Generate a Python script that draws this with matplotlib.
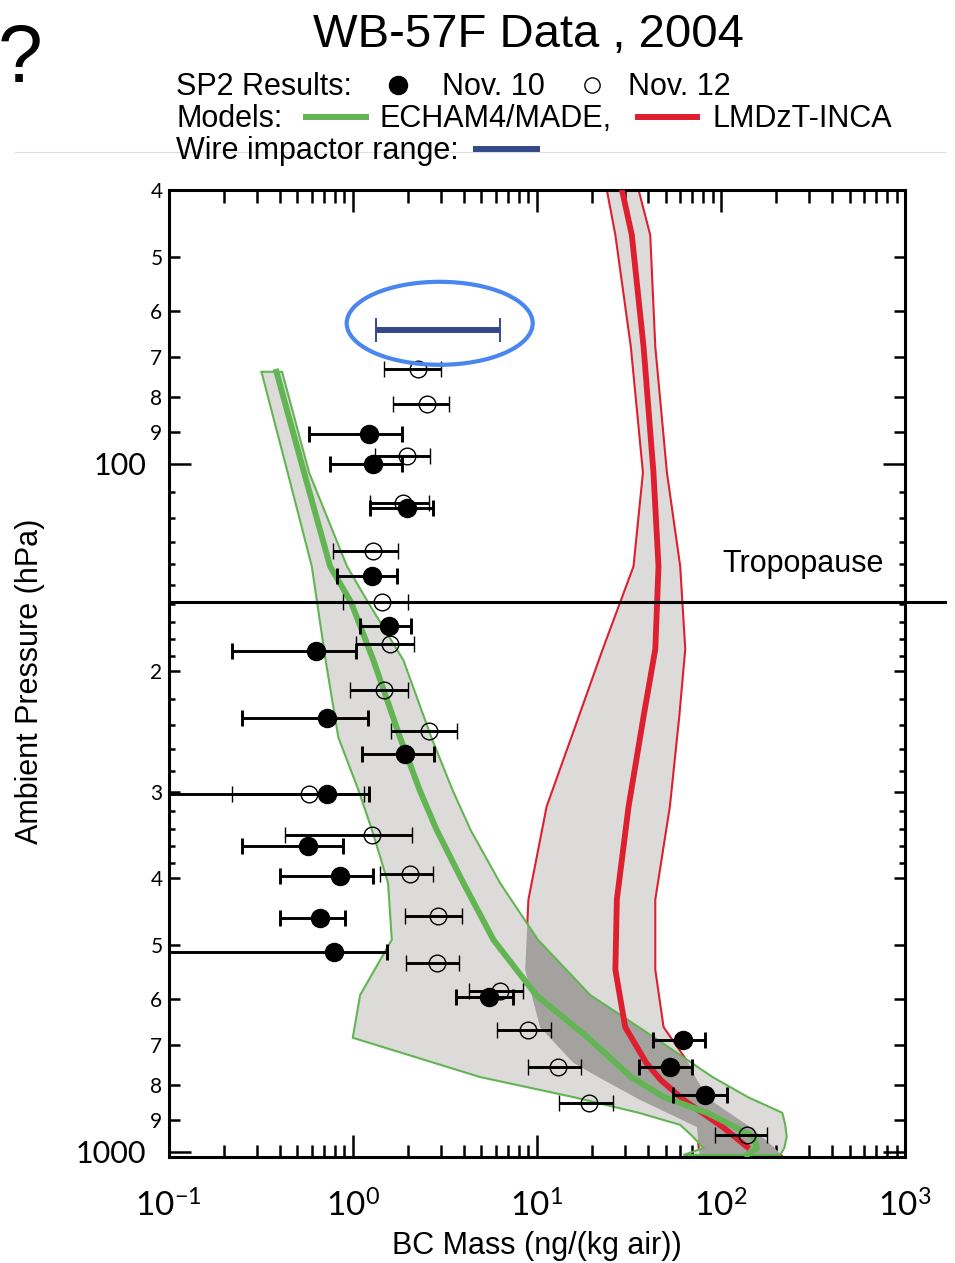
# WB-57F の BC 鉛直分布 (SP2 観測とモデル) を再現する
import numpy as np
import matplotlib
matplotlib.use("Agg")
import matplotlib.pyplot as plt
from matplotlib.lines import Line2D
from matplotlib.patches import Ellipse, Polygon
from matplotlib.ticker import FixedLocator, FuncFormatter, LogLocator, NullFormatter

plt.rcParams["font.family"] = ["Liberation Sans", "DejaVu Sans"]
plt.rcParams["mathtext.fontset"] = "custom"
plt.rcParams["mathtext.rm"] = "Lato"
plt.rcParams["mathtext.it"] = "Lato:italic"
plt.rcParams["mathtext.bf"] = "Lato:bold"

# SP2 Nov. 10 (filled)
nov10_p = [90.4, 100, 116, 145.5, 172, 187, 234, 264, 302, 359, 398, 458, 512, 595, 688, 752, 827]
nov10_bc = [1.22, 1.29, 1.97, 1.27, 1.58, 0.63, 0.72, 1.92, 0.72, 0.57, 0.85, 0.66, 0.79, 5.5, 62, 52.6, 81.5]
nov10_lo = [0.58, 0.75, 1.24, 0.82, 1.10, 0.22, 0.25, 1.12, 0.05, 0.25, 0.40, 0.40, 0.05, 3.64, 42.5, 36, 55]
nov10_hi = [1.85, 1.86, 2.74, 1.74, 2.07, 1.04, 1.21, 2.77, 1.22, 0.89, 1.28, 0.91, 1.53, 7.4, 82, 69.6, 108]

# SP2 Nov. 12 (open)
nov12_p = [72.8, 82, 97.4, 114, 134, 158.6, 183, 213, 245, 302, 347, 395, 454, 532, 585, 665, 752, 849, 946]
nov12_bc = [2.27, 2.53, 1.97, 1.88, 1.28, 1.44, 1.60, 1.47, 2.61, 0.58, 1.27, 2.05, 2.92, 2.86, 6.3, 8.9, 13.1, 19.3, 138]
nov12_lo = [1.48, 1.66, 1.32, 1.24, 0.78, 0.88, 1.04, 0.97, 1.61, 0.22, 0.43, 1.41, 1.92, 1.94, 4.3, 6.1, 8.9, 13.2, 93]
nov12_hi = [3.02, 3.35, 2.63, 2.58, 1.77, 1.99, 2.14, 1.99, 3.67, 1.15, 2.09, 2.74, 3.91, 3.80, 8.4, 11.9, 17.3, 25.8, 179]

# ECHAM4/MADE : range and median
echam_p = [73.5, 103, 141, 159, 193, 250, 298, 341, 407, 492, 592, 683, 779, 833, 878, 914, 952, 988, 1011]
echam_lo = [0.319, 0.443, 0.599, 0.640, 0.712, 0.835, 1.073, 1.273, 1.555, 1.629, 1.096, 1.0, 4.92, 15.8, 35.8, 60, 70.7, 80.4, 62.6]
echam_med = [0.385, 0.544, 0.753, 0.979, 1.294, 1.807, 2.307, 2.860, 3.992, 5.809, 9.913, 19.0, 32.5, 49.0, 83.9, 113.2, 150.4, 156.9, 138.5]
echam_hi = [0.413, 0.579, 0.931, 1.211, 1.884, 2.674, 3.482, 4.373, 6.318, 10.14, 19.49, 43.7, 90.1, 140.1, 215.4, 223.6, 227.8, 220.8, 210.1]

# LMDzT-INCA : range and median
inca_p = [40, 46.5, 67.6, 103, 141, 186, 233, 315, 430, 544, 659, 743, 787, 841, 921, 984, 1020]
inca_lo = [24.0, 26.7, 32.4, 37.7, 33.5, 22.8, 16.9, 11.3, 9.0, 8.64, 10.4, 15.8, 23.1, 36.4, 74.1, 75.6, 77.2]
inca_med = [29.0, 32.8, 38.0, 43.0, 45.8, 44.0, 38.0, 31.5, 27.2, 26.7, 30.2, 39.3, 47.2, 62.8, 102.4, 138.5, np.nan]
inca_hi = [35.7, 41.3, 44.0, 50.9, 60.1, 64.0, 59.4, 52.8, 44.0, 44.0, 48.8, 66.6, 74.1, 87.5, 144.3, 193.2, 218.9]

# Wire impactor range
wire_lo = 1.34
wire_hi = 6.3
wire_p = 64.0

tropopause_p = 158.6

y_minor_ticks = [40, 50, 60, 70, 80, 90, 110, 120, 130, 140, 150, 160, 170, 180, 190,
                 200, 220, 240, 260, 280, 300, 320, 340, 360, 380, 400, 500, 600, 700, 800, 900]

GREEN = "#62b552"
RED = "#de1f30"
NAVY = "#34498c"
LIGHT = "#dcdbd9"
DARK = "#a3a29f"

W, H = 955, 1263


def fx(px):
    return px / W


def fy(py):
    return 1 - py / H


def minor_label(v, pos):
    v = int(round(v))
    if 40 <= v <= 90:
        return str(v // 10)
    if v >= 200 and v % 100 == 0:
        return str(v // 100)
    return ""


def band_verts(p, lo, hi):
    return list(zip(lo, p)) + list(zip(hi[::-1], p[::-1]))


fig = plt.figure(figsize=(W / 100, H / 100), dpi=100)
ax = fig.add_axes([fx(168.7), fy(1157.3), (905 - 168.7) / W, (1157.3 - 190) / H])
ax.set_xscale("log")
ax.set_yscale("log")
ax.set_xlim(0.1, 1000)
ax.set_ylim(1019, 40)

# モデルの範囲 (重なりは濃いグレー)
inca_fill = Polygon(band_verts(inca_p, inca_lo, inca_hi), closed=True, fc=LIGHT, ec="none", zorder=1)
ax.add_patch(inca_fill)
ax.add_patch(Polygon(band_verts(inca_p, inca_lo, inca_hi), closed=True, fc="none", ec=RED, lw=1.5, zorder=1.2))
echam_fill = Polygon(band_verts(echam_p, echam_lo, echam_hi), closed=True, fc=LIGHT, ec="none", zorder=1.4)
ax.add_patch(echam_fill)
overlap = Polygon(band_verts(inca_p, inca_lo, inca_hi), closed=True, fc=DARK, ec="none", zorder=1.6)
ax.add_patch(overlap)
overlap.set_clip_path(echam_fill)
ax.add_patch(Polygon(band_verts(echam_p, echam_lo, echam_hi), closed=True, fc="none", ec=GREEN, lw=1.5, zorder=2))

ax.plot(inca_med, inca_p, color=RED, lw=4.2, zorder=3)
ax.plot(echam_med, echam_p, color=GREEN, lw=4.3, zorder=3.2)

# 観測値
nov12_bc_a = np.array(nov12_bc)
ax.errorbar(nov12_bc, nov12_p,
            xerr=[nov12_bc_a - np.array(nov12_lo), np.array(nov12_hi) - nov12_bc_a],
            fmt="o", ms=12, mfc="none", mec="k", mew=1.0, ecolor="k",
            elinewidth=2.1, capsize=6, capthick=2.1, zorder=5)
nov10_bc_a = np.array(nov10_bc)
ax.errorbar(nov10_bc, nov10_p,
            xerr=[nov10_bc_a - np.array(nov10_lo), np.array(nov10_hi) - nov10_bc_a],
            fmt="o", ms=13, mfc="k", mec="k", ecolor="k",
            elinewidth=2.1, capsize=6, capthick=2.1, zorder=5.2)

wire_mid = np.sqrt(wire_lo * wire_hi)
ax.errorbar([wire_mid], [wire_p], xerr=[[wire_mid - wire_lo], [wire_hi - wire_mid]],
            fmt="none", ecolor=NAVY, elinewidth=4.3, capsize=8.5, capthick=1.4, zorder=5)

# 対流圏界面
ax.plot([0, 1.054], [tropopause_p, tropopause_p], transform=ax.get_yaxis_transform(),
        color="k", lw=2.2, clip_on=False, zorder=6)
ax.text(0.7515, 0.605, "Tropopause", transform=ax.transAxes, fontsize=22,
        ha="left", va="baseline")

# 軸
for s in ax.spines.values():
    s.set_linewidth(2.2)
ax.xaxis.set_major_locator(LogLocator(base=10, numticks=10))
ax.xaxis.set_minor_locator(LogLocator(base=10, subs=np.arange(2, 10), numticks=10))
ax.xaxis.set_minor_formatter(NullFormatter())
ax.tick_params(axis="x", which="major", direction="in", length=16, width=1.8,
               top=True, labelsize=24, pad=23, labelfontfamily="Lato")
ax.tick_params(axis="x", which="minor", direction="in", length=9, width=1.8, top=True)

ax.yaxis.set_major_locator(FixedLocator([100, 1000]))
ax.yaxis.set_major_formatter(FuncFormatter(lambda v, pos: str(int(round(v)))))
ax.yaxis.set_minor_locator(FixedLocator(y_minor_ticks))
ax.yaxis.set_minor_formatter(FuncFormatter(minor_label))
ax.tick_params(axis="y", which="major", direction="in", length=16, width=1.8, right=True,
               labelsize=22, pad=16, labelfontfamily="Lato")
ax.tick_params(axis="y", which="minor", direction="in", length=7.7, width=1.8, right=True,
               labelsize=15, pad=4.5, labelfontfamily="Lato")

locs = ax.yaxis.get_minorticklocs()
for tick, loc in zip(ax.yaxis.get_minor_ticks(len(locs)), locs):
    if minor_label(loc, None) == "":
        tick.tick1line.set_markersize(4.3)
        tick.tick2line.set_markersize(4.3)

ax.set_xlabel("BC Mass (ng/(kg air))", fontsize=22)
ax.xaxis.set_label_coords(0.4995, -0.0917)
ax.xaxis.label.set_va("center")
ax.set_ylabel("Ambient Pressure (hPa)", fontsize=22)
ax.yaxis.set_label_coords(-0.1884, 0.4924)
ax.yaxis.label.set_va("center")

# 見出しと凡例
fig.text(fx(528), fy(47), "WB-57F Data , 2004", fontsize=34, ha="center", va="baseline")
fig.text(fx(20), fy(82), "?", fontsize=58, ha="center", va="baseline")

fig.text(fx(176), fy(95), "SP2 Results:", fontsize=22, va="baseline")
fig.add_artist(Line2D([fx(398)], [fy(85)], transform=fig.transFigure, marker="o", ms=13,
                      mfc="k", mec="k", ls="none"))
fig.text(fx(442), fy(95), "Nov. 10", fontsize=22, va="baseline")
fig.add_artist(Line2D([fx(592)], [fy(85)], transform=fig.transFigure, marker="o", ms=11,
                      mfc="none", mec="k", mew=1.0, ls="none"))
fig.text(fx(628), fy(95), "Nov. 12", fontsize=22, va="baseline")

fig.text(fx(176), fy(127), "Models:", fontsize=22, va="baseline")
fig.add_artist(Line2D([fx(306), fx(366)], [fy(117), fy(117)], transform=fig.transFigure,
                      color=GREEN, lw=4.3))
fig.text(fx(380), fy(127), "ECHAM4/MADE,", fontsize=22, va="baseline")
fig.add_artist(Line2D([fx(638), fx(697)], [fy(117), fy(117)], transform=fig.transFigure,
                      color=RED, lw=4.3))
fig.text(fx(712), fy(127), "LMDzT-INCA", fontsize=22, va="baseline")

fig.add_artist(Line2D([fx(15), fx(945)], [fy(152), fy(152)], transform=fig.transFigure,
                      color="#dddddd", lw=0.8))
fig.text(fx(176), fy(159), "Wire impactor range:", fontsize=22, va="baseline")
fig.add_artist(Line2D([fx(476), fx(537)], [fy(149), fy(149)], transform=fig.transFigure,
                      color=NAVY, lw=4.3))

fig.add_artist(Ellipse((fx(439.7), fy(323.3)), 186 / W, 83 / H, transform=fig.transFigure,
                       fill=False, ec="#4a86f0", lw=3))

fig.savefig("out.png", dpi=100)
